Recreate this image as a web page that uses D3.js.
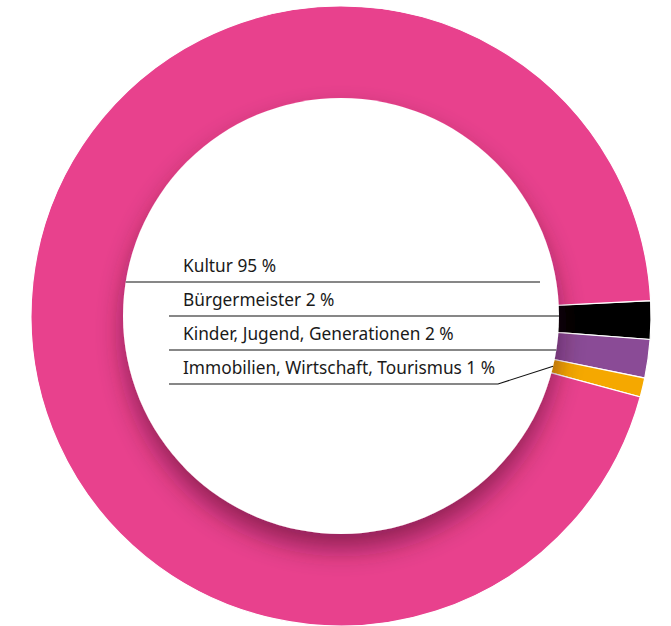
<!DOCTYPE html>
<html>
<head>
<meta charset="utf-8">
<script src="https://cdn.jsdelivr.net/npm/d3@7"></script>
<style>
  body { margin: 0; background: #fff; }
  svg { display: block; }
  .lbl { font-family: "Noto Sans", sans-serif; font-size: 17.3px; fill: #1a1a1a; }
</style>
</head>
<body>
<svg id="vis" width="671" height="626"></svg>
<script>
// slices clockwise from just above 3 o'clock
let categories = ["Bürgermeister", "Kinder, Jugend, Generationen", "Immobilien, Wirtschaft, Tourismus", "Kultur"];
let values = [2, 2, 1, 95];
let colors = ["#000000", "#8a4b96", "#f5a800", "#e8418d"];
// legend rows, top to bottom
let labelOrder = ["Kultur", "Bürgermeister", "Kinder, Jugend, Generationen", "Immobilien, Wirtschaft, Tourismus"];

let svg = d3.select("#vis");
let cx = 341, cy = 316;
let outerR = 310, innerR = 218;

let defs = svg.append("defs");
let f = defs.append("filter").attr("id", "holeShadow")
    .attr("x", "-30%").attr("y", "-30%").attr("width", "160%").attr("height", "160%");
f.append("feGaussianBlur").attr("in", "SourceAlpha").attr("stdDeviation", 13).attr("result", "b");
f.append("feOffset").attr("in", "b").attr("dy", 15).attr("result", "o");
f.append("feFlood").attr("flood-color", "#3a0020").attr("flood-opacity", 0.5);
f.append("feComposite").attr("in2", "o").attr("operator", "in").attr("result", "s");
let m = f.append("feMerge");
m.append("feMergeNode").attr("in", "s");
m.append("feMergeNode").attr("in", "SourceGraphic");

let pie = d3.pie().sort(null)
    .startAngle(87.15 * Math.PI / 180)
    .endAngle(87.15 * Math.PI / 180 + 2 * Math.PI);
let arcs = pie(values);

let arc = d3.arc().innerRadius(innerR - 2).outerRadius(outerR);

let g = svg.append("g").attr("transform", `translate(${cx},${cy})`);
g.selectAll("path.slice")
    .data(arcs)
    .enter()
    .append("path")
    .attr("class", "slice")
    .attr("d", arc)
    .attr("fill", (d, i) => colors[i])
    .attr("stroke", "#fff")
    .attr("stroke-width", 1.2);

// white hole with soft shadow falling on the ring
g.append("circle")
    .attr("r", innerR)
    .attr("fill", "#fff")
    .attr("filter", "url(#holeShadow)");

// labels + leader lines
let rowY = d3.scalePoint().domain(labelOrder).range([282, 384]);
let textX = 183, lineX0 = 169;

function innerX(y) {
    let dy = y - cy;
    return cx + Math.sqrt(innerR * innerR - dy * dy);
}

labelOrder.forEach(function (name, i) {
    let k = categories.indexOf(name);
    let y = rowY(name);
    svg.append("text")
        .attr("class", "lbl")
        .attr("x", textX)
        .attr("y", y - 10)
        .text(name + " " + values[k] + " %");

    let pts;
    if (name === "Kultur") {
        pts = [[2 * cx - innerX(y), y], [540, y]];
    } else if (name === "Immobilien, Wirtschaft, Tourismus") {
        let a = (arcs[k].startAngle + arcs[k].endAngle) / 2;
        pts = [[lineX0, y], [498, y],
            [cx + innerR * Math.sin(a), cy - innerR * Math.cos(a)]];
    } else {
        pts = [[lineX0, y], [innerX(y), y]];
    }
    svg.append("path")
        .attr("d", d3.line()(pts))
        .attr("fill", "none")
        .attr("stroke", "#111")
        .attr("stroke-width", 1.1);
});
</script>
</body>
</html>
